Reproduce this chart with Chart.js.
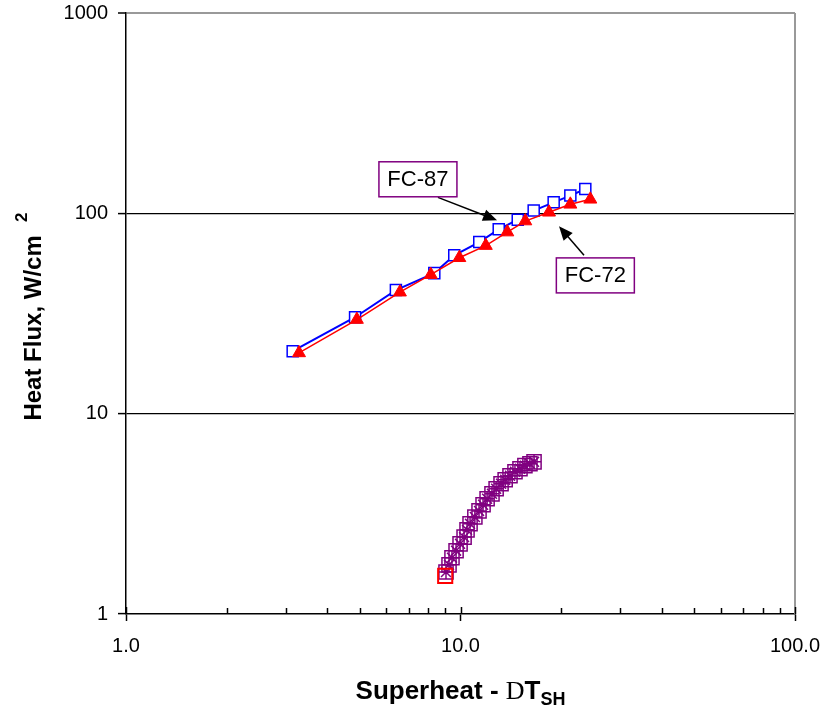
<!DOCTYPE html>
<html><head><meta charset="utf-8">
<script src="https://cdn.jsdelivr.net/npm/chart.js@4.4.1/dist/chart.umd.min.js"></script>
<style>html,body{margin:0;padding:0;background:#fff;}#wrap{width:828px;height:713px;}</style>
</head><body><div id="wrap"><canvas id="c" width="828" height="713"></canvas></div>
<script>
// ---- data ----
const fc87X = [3.15, 4.84, 6.41, 8.35, 9.58, 11.38, 13.01, 14.83, 16.55, 18.99, 21.30, 23.61];
const fc87Y = [20.5, 30.3, 41.4, 50.3, 61.7, 71.9, 83.2, 93.0, 103.2, 113.5, 122.6, 132.3];
const fc72X = [3.29, 4.90, 6.59, 8.15, 9.92, 11.90, 13.80, 15.62, 18.39, 21.30, 24.44];
const fc72Y = [20.1, 29.5, 40.4, 49.4, 60.0, 69.0, 80.6, 91.5, 101.2, 110.9, 117.5];
const lowX = [9.05, 9.24, 9.43, 9.70, 9.97, 10.25, 10.46, 10.68, 11.04, 11.36, 11.68, 12.01, 12.42, 12.78, 13.22, 13.60, 14.06, 14.55, 15.06, 15.58, 16.13, 16.59];
const lowY = [1.62, 1.76, 1.91, 2.07, 2.24, 2.42, 2.63, 2.82, 3.05, 3.27, 3.51, 3.76, 3.98, 4.22, 4.47, 4.68, 4.90, 5.13, 5.31, 5.50, 5.62, 5.75];
const lowRedX = [9.0];
const lowRedY = [1.55];
const yTickValues = [1, 10, 100, 1000];
const xTickValues = [1,2,3,4,5,6,7,8,9,10,20,30,40,50,60,70,80,90,100];
const xTickLabels = {1: '1.0', 10: '10.0', 100: '100.0'};
const yTitleText = 'Heat Flux, W/cm';
const yTitleSup = '2';
const xTitleParts = ['Superheat - ', 'D', 'T', 'SH'];
const noteLabels = ['FC-87', 'FC-72'];
const noteBoxAt = [[7.46, 147.9], [25.3, 49.0]];
const noteTailAt = [[8.56, 120.2], [23.4, 61.7]];
const noteTipAt = [[12.86, 92.3], [19.7, 86.1]];

const pts = (xs, ys) => xs.map((x, i) => ({x: x, y: ys[i]}));
const FONT = "'Liberation Sans', Arial, sans-serif";

const extras = {
  id: 'extras',
  afterDatasetsDraw(chart) {
    const ctx = chart.ctx, a = chart.chartArea;
    const xs = chart.scales.x, ys = chart.scales.y;
    ctx.save();
    ctx.strokeStyle = '#999999';
    ctx.lineWidth = 2;
    ctx.beginPath();
    ctx.moveTo(a.right, a.top); ctx.lineTo(a.right, a.bottom);
    ctx.stroke();
    ctx.strokeStyle = '#000';
    ctx.lineWidth = 1.5;
    xTickValues.forEach(v => {
      const px = Math.round(xs.getPixelForValue(v)) + 0.5;
      const major = xTickLabels[v] !== undefined;
      ctx.beginPath();
      ctx.moveTo(px, a.bottom);
      ctx.lineTo(px, a.bottom - (major ? 7 : 6));
      ctx.stroke();
    });
    noteLabels.forEach((t, i) => {
      const tx = xs.getPixelForValue(noteTailAt[i][0]), ty = ys.getPixelForValue(noteTailAt[i][1]);
      const hx = xs.getPixelForValue(noteTipAt[i][0]), hy = ys.getPixelForValue(noteTipAt[i][1]);
      const ang = Math.atan2(hy - ty, hx - tx);
      const L = 14, W = 6;
      ctx.strokeStyle = '#000'; ctx.fillStyle = '#000'; ctx.lineWidth = 1.5;
      ctx.beginPath(); ctx.moveTo(tx, ty);
      ctx.lineTo(hx - Math.cos(ang) * L * 0.8, hy - Math.sin(ang) * L * 0.8); ctx.stroke();
      ctx.beginPath();
      ctx.moveTo(hx, hy);
      ctx.lineTo(hx - Math.cos(ang) * L - Math.sin(ang) * W, hy - Math.sin(ang) * L + Math.cos(ang) * W);
      ctx.lineTo(hx - Math.cos(ang) * L + Math.sin(ang) * W, hy - Math.sin(ang) * L - Math.cos(ang) * W);
      ctx.closePath(); ctx.fill();
      const bx = xs.getPixelForValue(noteBoxAt[i][0]), by = ys.getPixelForValue(noteBoxAt[i][1]);
      const bw = 78, bh = 35;
      ctx.fillStyle = '#fff';
      ctx.fillRect(bx - bw / 2, by - bh / 2, bw, bh);
      ctx.strokeStyle = '#800080'; ctx.lineWidth = 1.5;
      ctx.strokeRect(bx - bw / 2, by - bh / 2, bw, bh);
      ctx.fillStyle = '#000';
      ctx.font = '22px ' + FONT;
      ctx.textAlign = 'center'; ctx.textBaseline = 'middle';
      ctx.fillText(t, bx, by + 1);
    });
    ctx.restore();
  },
  afterDraw(chart) {
    const ctx = chart.ctx, a = chart.chartArea;
    ctx.save();
    ctx.fillStyle = '#000';
    ctx.translate(41, (a.top + a.bottom) / 2 + 3);
    ctx.rotate(-Math.PI / 2);
    ctx.font = 'bold 24px ' + FONT;
    const mainW = ctx.measureText(yTitleText + '  ').width;
    ctx.font = 'bold 17px ' + FONT;
    const supW = ctx.measureText(yTitleSup).width;
    const total = mainW + supW;
    ctx.textBaseline = 'alphabetic'; ctx.textAlign = 'left';
    ctx.font = 'bold 24px ' + FONT;
    ctx.fillText(yTitleText, -total / 2, 0);
    ctx.font = 'bold 17px ' + FONT;
    ctx.fillText(yTitleSup, -total / 2 + mainW, -14);
    ctx.restore();
    ctx.save();
    ctx.fillStyle = '#000';
    ctx.textBaseline = 'alphabetic'; ctx.textAlign = 'left';
    const fonts = ['bold 26px ' + FONT, '26px "Liberation Serif", serif', 'bold 26px ' + FONT, 'bold 18px ' + FONT];
    const dy = [0, 0, 0, 6];
    const widths = xTitleParts.map((p, i) => { ctx.font = fonts[i]; return ctx.measureText(p).width; });
    const tw = widths.reduce((s, w) => s + w, 0);
    let x0 = (a.left + a.right) / 2 - tw / 2;
    const baseY = 699;
    xTitleParts.forEach((p, i) => {
      ctx.font = fonts[i];
      ctx.fillText(p, x0, baseY + dy[i]);
      x0 += widths[i];
    });
    ctx.restore();
  }
};

new Chart(document.getElementById('c'), {
  type: 'scatter',
  data: {
    datasets: [
      {data: pts(lowRedX, lowRedY), showLine: false, pointStyle: 'rect', pointRadius: 10, pointBorderColor: '#ff0000', pointBackgroundColor: 'rgba(0,0,0,0)', pointBorderWidth: 2},
      {data: pts(fc72X, fc72Y), showLine: true, borderColor: '#ff0000', borderWidth: 1.5, pointStyle: 'triangle', pointRadius: 7.5, pointBorderColor: '#ff0000', pointBackgroundColor: '#ff0000', pointBorderWidth: 1},
      {data: pts(fc87X, fc87Y), showLine: true, borderColor: '#0000ff', borderWidth: 2, pointStyle: 'rect', pointRadius: 7.8, pointBorderColor: '#0000ff', pointBackgroundColor: '#ffffff', pointBorderWidth: 1.5},
      {data: pts(lowX, lowY), showLine: false, pointStyle: 'star', pointRadius: 7, pointBorderColor: '#800080', pointBackgroundColor: 'rgba(0,0,0,0)', pointBorderWidth: 1.5},
      {data: pts(lowX, lowY), showLine: false, pointStyle: 'rect', pointRadius: 10, pointBorderColor: '#800080', pointBackgroundColor: 'rgba(0,0,0,0)', pointBorderWidth: 1.5}
    ]
  },
  options: {
    responsive: false, animation: false, devicePixelRatio: 1,
    layout: {padding: {top: 13, right: 33, left: 0, bottom: 0}},
    plugins: {legend: {display: false}, tooltip: {enabled: false}},
    scales: {
      x: {
        type: 'logarithmic', min: 1, max: 100, position: 'bottom',
        afterBuildTicks: s => { s.ticks = xTickValues.map(v => ({value: v})); },
        afterFit: s => { s.height = 99; s.paddingLeft = 0; s.paddingRight = 0; },
        ticks: {autoSkip: false, maxRotation: 0, padding: 13, color: '#000', font: {size: 20, family: FONT},
          callback: v => xTickLabels[v] !== undefined ? xTickLabels[v] : ''},
        grid: {drawOnChartArea: false, drawTicks: true, tickLength: 7, tickWidth: 1.5,
          tickColor: c => (c.tick && xTickLabels[c.tick.value] !== undefined) ? '#000' : 'rgba(0,0,0,0)'},
        border: {color: '#000', width: 1.5}
      },
      y: {
        type: 'logarithmic', min: 1, max: 1000,
        afterBuildTicks: s => { s.ticks = yTickValues.map(v => ({value: v})); },
        afterFit: s => { s.width = 126; s.paddingTop = 0; s.paddingBottom = 0; },
        ticks: {autoSkip: false, padding: 10, color: '#000', font: {size: 20, family: FONT},
          callback: v => String(v)},
        grid: {drawTicks: true, tickLength: 8, tickWidth: 1.5, tickColor: '#000',
          color: c => (c.tick && c.tick.value === 1000) ? '#999999' : (c.tick && c.tick.value === 1 ? 'rgba(0,0,0,0)' : '#000'),
          lineWidth: c => (c.tick && c.tick.value === 1000) ? 2 : 1.2},
        border: {color: '#000', width: 1.5}
      }
    }
  },
  plugins: [extras]
});
</script>
</body></html>
